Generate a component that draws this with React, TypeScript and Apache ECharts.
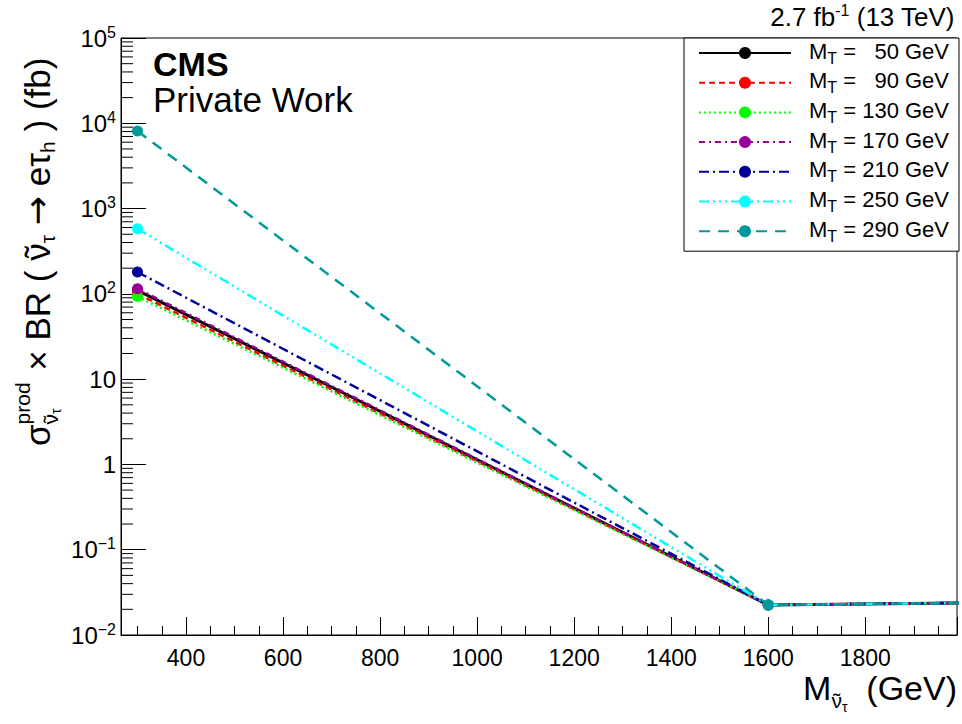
import React, { useEffect, useRef } from "react";
import * as echarts from "echarts";

// ---- data ----
const massPoints = [300, 1600, 2000];
const mtValues = ["50", "90", "130", "170", "210", "250", "290"];
const xsecMT50 = [110, 0.0225, 0.0238];
const xsecMT90 = [100, 0.0225, 0.0238];
const xsecMT130 = [93, 0.0225, 0.0238];
const xsecMT170 = [115, 0.0225, 0.0238];
const xsecMT210 = [180, 0.0225, 0.0238];
const xsecMT250 = [580, 0.0225, 0.0238];
const xsecMT290 = [8100, 0.0225, 0.0238];
const allXsec = [xsecMT50, xsecMT90, xsecMT130, xsecMT170, xsecMT210, xsecMT250, xsecMT290];

const lineColors = ["#000000", "#ff0000", "#00ff00", "#990099", "#000099", "#00ffff", "#009999"];
const lineDashes: any[] = [
  "solid",
  [6, 4],
  [2, 3],
  [6, 4, 2, 4],
  [10, 4, 2, 4],
  [10, 4, 2, 4, 2, 4, 2, 4],
  [11, 8],
];
const lineWidths = [3, 2.5, 2.5, 2.5, 2.5, 2.5, 2.5];

const X_MIN = 266;
const X_MAX = 1989;
const Y_MIN = 0.01;
const Y_MAX = 100000;
const yMinorMantissas = [2, 3, 4, 5, 6, 7, 8, 9];
const yDecades = [-2, -1, 0, 1, 2, 3, 4];

const FONT_NAME = "Liberation Sans";
const FONT = '"Liberation Sans", Arial, Helvetica, sans-serif';
const ARROW_FONT = '"DejaVu Sans", sans-serif';

type Piece = { t: string; fs: number; dy: number; tildeOver?: boolean; group?: string; ff?: string };

function makeMeasure() {
  const c = document.createElement("canvas").getContext("2d") as CanvasRenderingContext2D;
  return (t: string, fs: number, ff?: string) => {
    c.font = `${fs}px ${ff || '"' + FONT_NAME + '"'}`;
    return c.measureText(t).width;
  };
}

function textEl(t: string, fs: number, x: number, y: number, ff?: string) {
  return {
    type: "text",
    x,
    y,
    silent: true,
    style: { text: t, fontSize: fs, fontFamily: ff || FONT, fill: "#000", align: "left", verticalAlign: "middle" },
  };
}

// lays out a run of text pieces along a line; returns graphic children and total width
function layoutRun(pieces: Piece[], measure: (t: string, fs: number, ff?: string) => number) {
  const children: any[] = [];
  let x = 0;
  let i = 0;
  while (i < pieces.length) {
    const p = pieces[i];
    if (p.group === "stack") {
      const stackStart = x;
      const sups: Piece[] = [];
      const subs: Piece[] = [];
      while (i < pieces.length && pieces[i].group === "stack") {
        if (pieces[i].dy < 0) sups.push(pieces[i]);
        else subs.push(pieces[i]);
        i++;
      }
      let maxW = 0;
      [sups, subs].forEach((arr) => {
        let sx = stackStart;
        arr.forEach((q) => {
          const w = measure(q.t, q.fs, q.ff);
          children.push(textEl(q.t, q.fs, sx, q.dy, q.ff));
          if (q.tildeOver) {
            const tw = measure("\u02dc", q.fs);
            children.push(textEl("\u02dc", q.fs, sx + (w - tw) / 2, q.dy));
          }
          sx += w;
        });
        maxW = Math.max(maxW, sx - stackStart);
      });
      x = stackStart + maxW + 2;
      continue;
    }
    const w = measure(p.t, p.fs, p.ff);
    children.push(textEl(p.t, p.fs, x, p.dy, p.ff));
    if (p.tildeOver) {
      const tw = measure("\u02dc", p.fs);
      children.push(textEl("\u02dc", p.fs, x + (w - tw) / 2, p.dy));
    }
    x += w;
    i++;
  }
  return { children, width: x };
}

export default function App() {
  const ref = useRef<HTMLDivElement>(null);

  useEffect(() => {
    document.body.style.margin = "0";
    if (!ref.current) return;
    const chart = echarts.init(ref.current, null, { renderer: "svg" });
    const measure = makeMeasure();

    const minorTickData: number[][] = [];
    yDecades.forEach((e) =>
      yMinorMantissas.forEach((m) => minorTickData.push([X_MIN, m * Math.pow(10, e)]))
    );

    const lineSeries = mtValues.map((mt, i) => ({
      name: mt,
      type: "line",
      data: massPoints.map((m, j) => [m, allXsec[i][j]]),
      symbol: "circle",
      symbolSize: 11,
      showSymbol: true,
      showAllSymbol: true,
      clip: true,
      silent: true,
      emphasis: { disabled: true },
      lineStyle: { color: lineColors[i], width: lineWidths[i], type: lineDashes[i] },
      itemStyle: { color: lineColors[i] },
      z: 3 + i,
    }));

    // y-axis title
    const YF = 35;
    const YS = 21;
    const yTitle = layoutRun(
      [
        { t: "\u03c3", fs: YF, dy: 0 },
        { t: "prod", fs: YS, dy: -15, group: "stack" },
        { t: "\u03bd", fs: YS, dy: 13, group: "stack", tildeOver: true },
        { t: "\u03c4", fs: 14, dy: 19, group: "stack" },
        { t: " \u00d7 BR ( ", fs: YF, dy: 0 },
        { t: "\u03bd", fs: YF, dy: 0, tildeOver: true },
        { t: "\u03c4", fs: YS, dy: 10 },
        { t: " ", fs: YF, dy: 0 },
        { t: "\u2192", fs: YF, dy: 0, ff: ARROW_FONT },
        { t: " e\u03c4", fs: YF, dy: 0 },
        { t: "h", fs: YS, dy: 10 },
        { t: " ) (fb)", fs: YF, dy: 0 },
      ],
      measure
    );

    // x-axis title
    const XF = 34;
    const xTitle = layoutRun(
      [
        { t: "M", fs: XF, dy: 0 },
        { t: "\u03bd", fs: 21, dy: 12, tildeOver: true },
        { t: "\u03c4", fs: 14, dy: 19 },
        { t: "  (GeV)", fs: XF, dy: 0 },
      ],
      measure
    );

    const option: any = {
      animation: false,
      backgroundColor: "#ffffff",
      textStyle: { fontFamily: FONT },
      grid: {
        left: 121,
        top: 38,
        right: 5,
        bottom: 89,
        show: true,
        borderColor: "#000",
        borderWidth: 1,
        backgroundColor: "transparent",
      },
      xAxis: {
        type: "value",
        min: X_MIN,
        max: X_MAX,
        splitNumber: 8,
        splitLine: { show: false },
        axisLine: { show: true, lineStyle: { color: "#000", width: 1 } },
        axisTick: { show: true, inside: true, length: 18, lineStyle: { color: "#000", width: 1 } },
        minorTick: { show: true, splitNumber: 4, length: 9, lineStyle: { color: "#000", width: 1 } },
        axisLabel: {
          color: "#000",
          fontSize: 23,
          fontFamily: FONT,
          margin: 11,
          showMinLabel: false,
          showMaxLabel: false,
          formatter: (v: number) => String(Math.round(v)),
        },
      },
      yAxis: {
        type: "log",
        logBase: 10,
        min: Y_MIN,
        max: Y_MAX,
        splitLine: { show: false },
        axisLine: { show: true, lineStyle: { color: "#000", width: 1 } },
        axisTick: { show: true, inside: true, length: 25, lineStyle: { color: "#000", width: 1 } },
        axisLabel: {
          color: "#000",
          fontFamily: FONT,
          margin: 5,
          formatter: (v: number) => {
            const e = Math.round(Math.log10(v));
            if (e === 0) return "{b|1}";
            if (e === 1) return "{b|10}";
            return `{b|10}{s|${e < 0 ? "\u2212" + -e : e}}`;
          },
          rich: {
            b: { fontSize: 24, lineHeight: 28, color: "#000", fontFamily: FONT },
            s: { fontSize: 16, lineHeight: 16, verticalAlign: "top", color: "#000", fontFamily: FONT },
          },
        },
      },
      legend: {
        show: true,
        data: mtValues,
        orient: "vertical",
        left: 684,
        top: 38,
        padding: [2, 10, 7, 14],
        itemGap: 3.7,
        itemWidth: 92,
        itemHeight: 15,
        selectedMode: false,
        backgroundColor: "#ffffff",
        borderColor: "#000",
        borderWidth: 1,
        borderRadius: 0,
        formatter: (name: string) => `{m|M}{t|T}{m| = ${name.padStart(3, "\u2007")} GeV}`,
        textStyle: {
          color: "#000",
          fontSize: 22,
          fontFamily: FONT,
          padding: [0, 0, 0, 13],
          rich: {
            m: { fontSize: 22, lineHeight: 26, verticalAlign: "top", color: "#000", fontFamily: FONT },
            t: { fontSize: 16, lineHeight: 12, verticalAlign: "bottom", color: "#000", fontFamily: FONT },
          },
        },
      },
      graphic: [
        {
          type: "text",
          left: 153,
          top: 47,
          style: { text: "CMS", fontSize: 34, fontWeight: "bold", fontFamily: FONT, fill: "#000" },
        },
        {
          type: "text",
          left: 153,
          top: 82,
          style: { text: "Private Work", fontSize: 35, fontFamily: FONT, fill: "#000" },
        },
        {
          type: "text",
          right: 7,
          top: 2,
          style: {
            text: "{a|2.7 fb}{s|-1}{a| (13 TeV)}",
            fill: "#000",
            fontFamily: FONT,
            rich: {
              a: { fontSize: 26, lineHeight: 30, fontFamily: FONT, fill: "#000" },
              s: { fontSize: 16, lineHeight: 16, verticalAlign: "top", fontFamily: FONT, fill: "#000" },
            },
          },
        },
        {
          type: "group",
          x: 957 - xTitle.width,
          y: 688,
          children: xTitle.children,
        },
        {
          type: "group",
          x: 37,
          y: 446,
          rotation: Math.PI / 2,
          children: yTitle.children,
        },
      ],
      series: [
        ...lineSeries,
        {
          name: "yMinorTicks",
          type: "custom",
          silent: true,
          z: 2,
          data: minorTickData,
          renderItem: (params: any, api: any) => {
            const p = api.coord([api.value(0), api.value(1)]);
            return {
              type: "line",
              shape: { x1: p[0], y1: p[1], x2: p[0] + 12, y2: p[1] },
              style: { stroke: "#000", lineWidth: 1 },
            };
          },
        },
      ],
    };

    chart.setOption(option);
    return () => chart.dispose();
  }, []);

  return <div ref={ref} style={{ width: 962, height: 724 }} />;
}
